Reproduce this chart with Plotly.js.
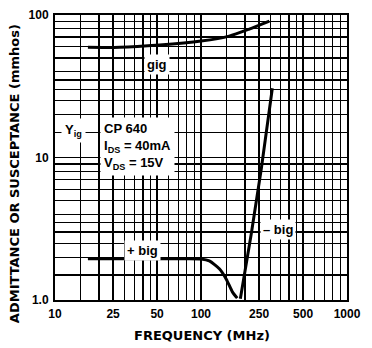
<!DOCTYPE html>
<html>
<head>
<meta charset="utf-8">
<script src="https://cdn.plot.ly/plotly-3.0.1.min.js"></script>
<style>html,body{margin:0;padding:0;background:#fff;}#chart{width:372px;height:348px;}</style>
</head>
<body>
<div id="chart"></div>
<script>
// Frequency (MHz) and admittance/susceptance (mmhos)
var gigFreq = [16.8, 27.8, 52, 100, 156, 214, 294];
var gigVal  = [59.5, 59.3, 61.5, 65.6, 71.1, 79.7, 90.7];

var bigPosFreq = [16.8, 30, 50, 80, 100, 114, 134, 149, 164, 177];
var bigPosVal  = [1.95, 1.95, 1.95, 1.95, 1.94, 1.88, 1.65, 1.40, 1.14, 1.03];

var bigNegFreq = [186, 221, 259, 308];
var bigNegVal  = [1.02, 2.92, 8.37, 30.6];

var xTickVals = [10, 25, 50, 100, 250, 500, 1000];
var xTickText = ['10', '25', '50', '100', '250', '500', '1000'];
var yTickVals = [1, 10, 100];
var yTickText = ['1.0', '10', '100'];

var xGrid = [15, 20, 30, 35, 40, 45, 60, 70, 80, 90,
             150, 200, 300, 350, 400, 450, 600, 700, 800, 900];
var yGrid = [1.5, 2, 2.5, 3, 3.5, 4, 5, 6, 7, 8, 9,
             15, 20, 25, 30, 35, 40, 50, 60, 70, 80, 90];

var lineStyle = {color: '#000', width: 3, shape: 'spline', smoothing: 0.6};

var traces = [
  {x: gigFreq, y: gigVal, mode: 'lines', line: lineStyle, name: 'gig', hoverinfo: 'skip'},
  {x: bigPosFreq, y: bigPosVal, mode: 'lines', line: lineStyle, name: '+big', hoverinfo: 'skip'},
  {x: bigNegFreq, y: bigNegVal, mode: 'lines', line: {color: '#000', width: 3}, name: '-big', hoverinfo: 'skip'}
];

var tickFont = {family: 'Liberation Sans, Arial, sans-serif', size: 12, color: '#000', weight: 'bold'};
var titleFont = {family: 'DejaVu Sans, sans-serif', size: 13, color: '#000', weight: 'bold'};
var annFont = {family: 'Liberation Sans, Arial, sans-serif', size: 13, color: '#000', weight: 'bold'};

var layout = {
  width: 372, height: 348,
  margin: {l: 55, r: 25, t: 15, b: 48},
  paper_bgcolor: '#fff', plot_bgcolor: '#fff',
  showlegend: false,
  xaxis: {
    type: 'log', range: [1, 3],
    tickmode: 'array', tickvals: xTickVals, ticktext: xTickText,
    tickfont: tickFont, ticks: '', ticklabelstandoff: 2,
    showgrid: true, gridcolor: '#000', gridwidth: 1.3,
    showline: true, linecolor: '#000', linewidth: 2, mirror: true,
    zeroline: false,
    minor: {tickmode: 'array', tickvals: xGrid, showgrid: true, gridcolor: '#000', gridwidth: 1.2, ticks: ''}
  },
  yaxis: {
    type: 'log', range: [0, 2],
    tickmode: 'array', tickvals: yTickVals, ticktext: yTickText,
    tickfont: tickFont, ticks: '', ticklabelstandoff: 2,
    showgrid: true, gridcolor: '#000', gridwidth: 1.3,
    showline: true, linecolor: '#000', linewidth: 2, mirror: true,
    zeroline: false,
    minor: {tickmode: 'array', tickvals: yGrid, showgrid: true, gridcolor: '#000', gridwidth: 1.2, ticks: ''}
  },
  annotations: [
    {xref: 'paper', yref: 'paper', x: -0.140, y: 0.442, text: 'ADMITTANCE OR SUSCEPTANCE (mmhos)',
     textangle: -90, showarrow: false, font: titleFont, xanchor: 'center', yanchor: 'middle'},
    {xref: 'paper', yref: 'paper', x: 0.503, y: -0.126, text: 'FREQUENCY (MHz)',
     showarrow: false, font: titleFont, xanchor: 'center', yanchor: 'middle'},
    {xref: 'paper', yref: 'paper', x: 0.062, y: 0.596, text: 'Y<sub>ig</sub>',
     showarrow: false, font: annFont, bgcolor: '#fff', borderpad: 3, xanchor: 'center', yanchor: 'middle'},
    {xref: 'paper', yref: 'paper', x: 0.154, y: 0.54, text: 'CP 640<br>I<sub>DS</sub> = 40mA<br>V<sub>DS</sub> = 15V',
     align: 'left', showarrow: false, font: annFont, bgcolor: '#fff', borderpad: 3, xanchor: 'left', yanchor: 'middle'},
    {xref: 'paper', yref: 'paper', x: 0.349, y: 0.828, text: 'gig',
     showarrow: false, font: annFont, bgcolor: '#fff', borderpad: 2, xanchor: 'center', yanchor: 'middle'},
    {xref: 'paper', yref: 'paper', x: 0.301, y: 0.175, text: '+ big',
     showarrow: false, font: annFont, bgcolor: '#fff', borderpad: 2, xanchor: 'center', yanchor: 'middle'},
    {xref: 'paper', yref: 'paper', x: 0.764, y: 0.246, text: '\u2013 big',
     showarrow: false, font: annFont, bgcolor: '#fff', borderpad: 2, xanchor: 'center', yanchor: 'middle'}
  ]
};

Plotly.newPlot('chart', traces, layout, {staticPlot: true, displayModeBar: false});
</script>
</body>
</html>
